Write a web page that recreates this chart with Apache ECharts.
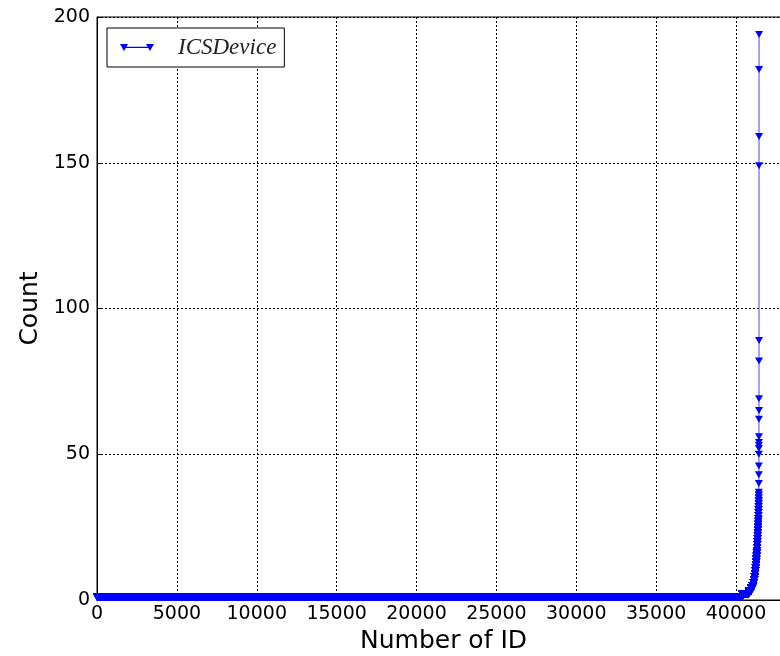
<!DOCTYPE html>
<html>
<head>
<meta charset="utf-8">
<script src="https://cdn.jsdelivr.net/npm/echarts@6/dist/echarts.min.js"></script>
<style>
html,body{margin:0;padding:0;background:#fff;}
#chart{width:780px;height:656px;}
</style>
</head>
<body>
<div id="chart"></div>
<script>
// Sorted counts per ID, stored as run-lengths: count level and how many IDs have it
const levelValues = [1, 2, 3, 4, 5, 6, 7, 8, 9, 10, 11, 12, 13, 14, 15, 16, 17, 18, 19, 20, 21, 22, 23, 24, 25, 26, 27, 28, 29, 30, 31, 32, 33, 34, 35, 36];
const levelRuns   = [40398, 400, 150, 80, 55, 40, 32, 28, 22, 20, 17, 15, 14, 13, 12, 11, 10, 10, 9, 9, 8, 8, 7, 7, 7, 6, 6, 5, 5, 5, 4, 4, 3, 3, 2, 2];
// Individual large counts at the top of the ranking
const tailValues = [37, 40, 43, 46, 50, 52, 53, 54, 56, 62, 65, 69, 82, 89, 149, 159, 182, 194];
const xTicks = [0, 5000, 10000, 15000, 20000, 25000, 30000, 35000, 40000];
const yTicks = [0, 50, 100, 150, 200];
const seriesName = 'ICSDevice';

const data = [];
let rank = 1;
for (let i = 0; i < levelValues.length; i++) {
  for (let k = 0; k < levelRuns[i]; k++) { data.push([rank, levelValues[i]]); rank++; }
}
for (let i = 0; i < tailValues.length; i++) { data.push([rank, tailValues[i]]); rank++; }

const chart = echarts.init(document.getElementById('chart'), null, {renderer: 'canvas'});
const tickFont = {fontFamily: 'DejaVu Sans', fontSize: 19, color: '#000'};
chart.setOption({
  animation: false,
  backgroundColor: '#fff',
  grid: {left: 97, top: 17, bottom: 56, right: -10, outerBoundsMode: 'none', containLabel: false,
         show: true, borderColor: '#000', borderWidth: 1, backgroundColor: 'transparent'},
  legend: {
    left: 107, top: 28,
    data: [{name: seriesName, icon: 'path://M0,0 L8,0 L4,7 Z M26,0 L34,0 L30,7 Z M4,2.8 L30,2.8 L30,4 L4,4 Z'}],
    itemWidth: 34, itemHeight: 7,
    backgroundColor: '#fff', borderColor: '#000', borderWidth: 1, borderRadius: 0,
    padding: [8, 8, 8, 13],
    textStyle: {fontFamily: 'Liberation Serif', fontStyle: 'italic', fontSize: 23, color: '#222', padding: [0, 0, 0, 19]}
  },
  xAxis: {
    type: 'value', min: xTicks[0], max: 43380, interval: 5000,
    name: 'Number of ID', nameLocation: 'middle', nameGap: 23,
    nameTextStyle: {fontFamily: 'DejaVu Sans', fontSize: 25, color: '#000', verticalAlign: 'top'},
    axisLine: {show: true, onZero: false, lineStyle: {color: '#000', width: 1}},
    axisTick: {show: true, inside: true, length: 5, lineStyle: {color: '#000'}},
    axisLabel: Object.assign({margin: 5, showMaxLabel: false, formatter: v => xTicks.includes(v) ? String(v) : ''}, tickFont),
    splitLine: {show: true, lineStyle: {color: '#000', width: 1, type: [2, 2]}}
  },
  yAxis: {
    type: 'value', min: yTicks[0], max: yTicks[yTicks.length - 1], interval: 50,
    name: 'Count', nameLocation: 'middle', nameGap: 50,
    nameTextStyle: {fontFamily: 'DejaVu Sans', fontSize: 25, color: '#000'},
    axisLine: {show: true, lineStyle: {color: '#000', width: 1}},
    axisTick: {show: true, inside: true, length: 5, lineStyle: {color: '#000'}},
    axisLabel: Object.assign({margin: 7}, tickFont),
    splitLine: {show: true, lineStyle: {color: '#000', width: 1, type: [2, 2]}}
  },
  series: [{
    name: seriesName, type: 'line', data: data,
    showAllSymbol: true, symbol: 'path://M0,0 L10,0 L5,9 Z', symbolSize: [8, 7],
    itemStyle: {color: '#0000ff'},
    lineStyle: {color: '#0000ff', width: 1.6, opacity: 0.45},
    emphasis: {disabled: true}, silent: true
  }]
});
</script>
</body>
</html>
